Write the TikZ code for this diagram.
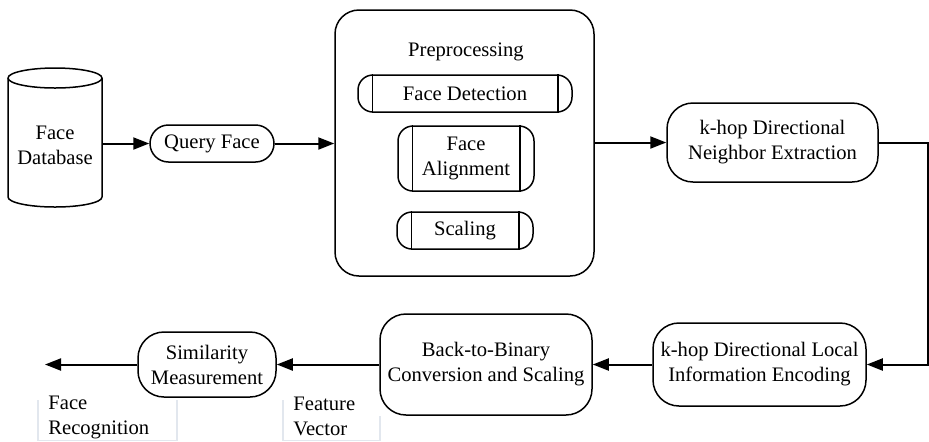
\documentclass[tikz,border=0pt]{standalone}
\usepackage{fontspec}
\setmainfont{Liberation Serif}
\usetikzlibrary{arrows.meta,calc}
\begin{document}
\begin{tikzpicture}[x=0.5pt,y=-0.5pt,
  every node/.style={font=\fontsize{10.3}{12.5}\selectfont, inner sep=0pt, align=center},
  rbox/.style={draw, line width=0.75pt, rounded corners=13pt},
  pill/.style={draw, line width=0.75pt, rounded corners=7.5pt},
  arr/.style={line width=1pt, -{Triangle[length=8pt,width=6pt]}},
  thin/.style={line width=0.75pt},
  faint/.style={draw={rgb,255:red,226;green,231;blue,238}, line width=0.6pt}]
\useasboundingbox (0,0) rectangle (929,441);

% database cylinder
\draw[thin] (8,78) -- (8,197) arc[start angle=180,end angle=360,x radius=23.5pt,y radius=5pt]
  -- (102,78) arc[start angle=0,end angle=180,x radius=23.5pt,y radius=5pt] -- cycle;
\draw[thin] (8,78) arc[start angle=180,end angle=360,x radius=23.5pt,y radius=5pt];
\node[minimum width=47pt] (db) at (55,145) {Face\\Database};

\node[pill, rounded corners=9.25pt, minimum width=62pt, minimum height=18.5pt] (qf) at (212,143.5) {Query Face};

% preprocessing
\node[rbox, rounded corners=12pt, minimum width=129.5pt, minimum height=133pt] (pp) at (464.5,143) {};
\node (pt) at (466,52) {Preprocessing};
\node[pill, minimum width=107pt, minimum height=18.5pt] (fd) at (465,93.5) {Face Detection};
\node[pill, minimum width=68pt, minimum height=32.5pt] (fa) at (466,158.5) {Face\\Alignment};
\node[pill, minimum width=68pt, minimum height=18.5pt] (sc) at (465,230.5) {Scaling};
\foreach \n in {fd,fa,sc}{
  \draw[thin] ([xshift=7.5pt]\n.north west) -- ([xshift=7.5pt]\n.south west);
  \draw[thin] ([xshift=-7.5pt]\n.north east) -- ([xshift=-7.5pt]\n.south east);
}

\node[rbox, minimum width=105.5pt, minimum height=39.5pt] (nx) at (772.5,142.5) {k-hop Directional\\Neighbor Extraction};
\node[rbox, minimum width=106.5pt, minimum height=41.5pt] (le) at (759.5,364.5) {k-hop Directional Local\\Information Encoding};
\node[rbox, minimum width=106pt, minimum height=50.5pt] (bb) at (486,364.5) {Back-to-Binary\\Conversion and Scaling};
\node[rbox, minimum width=69pt, minimum height=32.5pt] (sm) at (207,364.5) {Similarity\\Measurement};
\coordinate (out) at (45,364.5);

\draw[arr] (db.east |- qf.west) -- (qf.west);
\draw[arr] (qf.east) -- (qf.east -| pp.west);
\draw[arr] (pp.east |- nx.west) -- (nx.west);
\draw[arr] (nx.east) -- ++(49,0) |- (le.east);
\draw[arr] (le.west) -- (bb.east);
\draw[arr] (bb.west) -- (sm.east);
\draw[arr] (sm.west) -- (out);

% output labels
\draw[faint] (38,400) -- (38,440.5) -- (177,440.5) -- (177,400);
\draw[faint] (283,400) -- (283,440.5) -- (380,440.5) -- (380,416);
\node[anchor=west, align=left] (fr) at (48,417) {Face\\Recognition};
\node[anchor=west, align=left] (fv) at (293,416) {Feature\\Vector};
\end{tikzpicture}
\end{document}
